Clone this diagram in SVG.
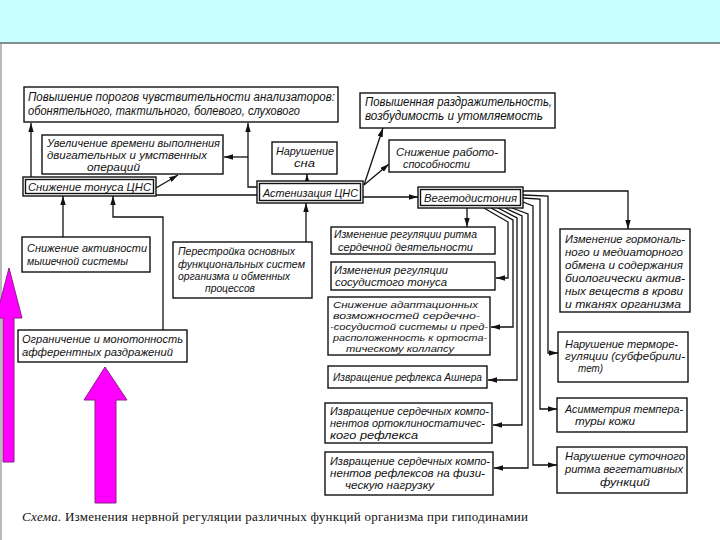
<svg xmlns="http://www.w3.org/2000/svg" width="720" height="540" viewBox="0 0 720 540">
<defs>
<style>
.bx{fill:#fff;stroke:#111;stroke-width:1.4}
.t{font-family:"Liberation Sans","DejaVu Sans",sans-serif;font-style:italic;font-size:11px;fill:#111}
.s12{font-size:12px}
.s105{font-size:10.5px}
.s98{font-size:9.8px}
.c{fill:none;stroke:#111;stroke-width:1.3}
.cap{font-family:"Liberation Serif","DejaVu Serif",serif;font-size:13px;fill:#111}
.mg{fill:#ff00ff;stroke:#8a1f8a;stroke-width:1}
</style>
<marker id="ar" viewBox="0 0 10 6" refX="10" refY="3" markerWidth="9" markerHeight="5.5" markerUnits="userSpaceOnUse" orient="auto">
<path d="M0,0 L10,3 L0,6 z" fill="#111"/>
</marker>
</defs>
<rect x="0" y="0" width="720" height="540" fill="#fff"/>
<rect x="0" y="0" width="720" height="42" fill="#c8ffff"/>
<line x1="0" y1="43" x2="720" y2="43" stroke="#5a6a6a" stroke-width="1.5"/>
<line x1="1" y1="43" x2="1" y2="540" stroke="#777" stroke-width="1"/>

<g id="connectors">
<path class="c" d="M31,177 V123" marker-end="url(#ar)"/>
<path class="c" d="M156,188 L178,175" marker-end="url(#ar)"/>
<path class="c" d="M156,195 H257"/>
<path class="c" d="M257,187 H248 V123" marker-end="url(#ar)"/>
<path class="c" d="M248,157 H224" marker-end="url(#ar)"/>
<path class="c" d="M307,182 V174" marker-end="url(#ar)"/>
<path class="c" d="M364,185 L383,128" marker-end="url(#ar)"/>
<path class="c" d="M364,185 L389,164" marker-end="url(#ar)"/>
<path class="c" d="M363,197 H418" marker-end="url(#ar)"/>
<path class="c" d="M63,237 V196" marker-end="url(#ar)"/>
<path class="c" d="M163,330 V217 H113 V196" marker-end="url(#ar)"/>
<path class="c" d="M306,242 V203" marker-end="url(#ar)"/>
<path class="c" d="M467,208 V227" marker-end="url(#ar)"/>
<path class="c" d="M484,208 L508,222 V278 H496" marker-end="url(#ar)"/>
<path class="c" d="M491,208 L513,220 V327 H491" marker-end="url(#ar)"/>
<path class="c" d="M498,208 L517,218 V380 H488" marker-end="url(#ar)"/>
<path class="c" d="M505,208 L522,216 V425 H493" marker-end="url(#ar)"/>
<path class="c" d="M512,208 L528,214 V468 H494" marker-end="url(#ar)"/>
<path class="c" d="M523,202 L533,206 V465 H557" marker-end="url(#ar)"/>
<path class="c" d="M523,198 L540,199 V409 H557" marker-end="url(#ar)"/>
<path class="c" d="M523,195 L548,196 V353 H558" marker-end="url(#ar)"/>
<path class="c" d="M523,191 H628 V229" marker-end="url(#ar)"/>
</g>

<g id="n1">
<rect class="bx" x="24" y="87" width="314" height="35"/>
<text class="t s12" x="28" y="101" textLength="307" lengthAdjust="spacingAndGlyphs">Повышение порогов чувствительности анализаторов:</text>
<text class="t s12" x="28" y="115" textLength="272" lengthAdjust="spacingAndGlyphs">обонятельного, тактильного, болевого, слухового</text>
</g>
<g id="n2">
<rect class="bx" x="360" y="93" width="195" height="35"/>
<text class="t s12" x="365" y="106" textLength="187" lengthAdjust="spacingAndGlyphs">Повышенная раздражительность,</text>
<text class="t s12" x="365" y="120" textLength="178" lengthAdjust="spacingAndGlyphs">возбудимость и утомляемость</text>
</g>
<g id="n3">
<rect class="bx" x="42" y="135" width="181" height="39"/>
<text class="t s105" x="47" y="147" textLength="173" lengthAdjust="spacingAndGlyphs">Увеличение времени выполнения</text>
<text class="t s105" x="47" y="159" textLength="160" lengthAdjust="spacingAndGlyphs">двигательных и умственных</text>
<text class="t s105" x="87" y="171" textLength="53" lengthAdjust="spacingAndGlyphs">операций</text>
</g>
<g id="n4">
<rect class="bx" x="272" y="142" width="65" height="32"/>
<text class="t s105" x="276" y="155" textLength="58" lengthAdjust="spacingAndGlyphs">Нарушение</text>
<text class="t s105" x="294" y="167" textLength="21" lengthAdjust="spacingAndGlyphs">сна</text>
</g>
<g id="n5">
<rect class="bx" x="389" y="140" width="116" height="32"/>
<text class="t s105" x="396" y="156" textLength="102" lengthAdjust="spacingAndGlyphs">Снижение работо-</text>
<text class="t s105" x="403" y="168" textLength="67" lengthAdjust="spacingAndGlyphs">способности</text>
</g>
<g id="n6">
<rect class="bx" x="23" y="177" width="133" height="19"/>
<rect class="bx" x="25.5" y="179.5" width="128" height="14" fill="none"/>
<text class="t" x="28" y="191" textLength="123" lengthAdjust="spacingAndGlyphs">Снижение тонуса ЦНС</text>
</g>
<g id="n7">
<rect class="bx" x="257" y="181" width="106" height="22"/>
<rect class="bx" x="259.5" y="183.5" width="101" height="17" fill="none"/>
<text class="t" x="263" y="197" textLength="95" lengthAdjust="spacingAndGlyphs">Астенизация ЦНС</text>
</g>
<g id="n8">
<rect class="bx" x="418" y="187" width="105" height="21"/>
<rect class="bx" x="420.5" y="189.5" width="100" height="16" fill="none"/>
<text class="t" x="424" y="202" textLength="93" lengthAdjust="spacingAndGlyphs">Вегетодистония</text>
</g>
<g id="n9">
<rect class="bx" x="22" y="237" width="128" height="35"/>
<text class="t" x="27" y="252" textLength="120" lengthAdjust="spacingAndGlyphs">Снижение активности</text>
<text class="t" x="27" y="265" textLength="101" lengthAdjust="spacingAndGlyphs">мышечной системы</text>
</g>
<g id="n10">
<rect class="bx" x="173" y="242" width="139" height="56"/>
<text class="t s105" x="178" y="255" textLength="117" lengthAdjust="spacingAndGlyphs">Перестройка основных</text>
<text class="t s105" x="178" y="268" textLength="127" lengthAdjust="spacingAndGlyphs">функциональных систем</text>
<text class="t s105" x="178" y="280" textLength="112" lengthAdjust="spacingAndGlyphs">организма и обменных</text>
<text class="t s105" x="205" y="292" textLength="50" lengthAdjust="spacingAndGlyphs">процессов</text>
</g>
<g id="n11">
<rect class="bx" x="18" y="330" width="169" height="32"/>
<text class="t" x="22" y="343" textLength="161" lengthAdjust="spacingAndGlyphs">Ограничение и монотонность</text>
<text class="t" x="22" y="356" textLength="151" lengthAdjust="spacingAndGlyphs">афферентных раздражений</text>
</g>
<g id="n12">
<rect class="bx" x="331" y="227" width="164" height="27"/>
<text class="t" x="334" y="238" textLength="143" lengthAdjust="spacingAndGlyphs">Изменение регуляции ритма</text>
<text class="t" x="338" y="251" textLength="135" lengthAdjust="spacingAndGlyphs">сердечной деятельности</text>
</g>
<g id="n13">
<rect class="bx" x="331" y="262" width="164" height="28"/>
<text class="t s105" x="334" y="274" textLength="114" lengthAdjust="spacingAndGlyphs">Изменения регуляции</text>
<text class="t s105" x="335" y="286" textLength="112" lengthAdjust="spacingAndGlyphs">сосудистого тонуса</text>
</g>
<g id="n14">
<rect class="bx" x="328" y="297" width="162" height="58"/>
<text class="t s98" x="333" y="308" textLength="145" lengthAdjust="spacingAndGlyphs">Снижение адаптационных</text>
<text class="t s98" x="333" y="319" textLength="147" lengthAdjust="spacingAndGlyphs">возможностей сердечно-</text>
<text class="t s98" x="330" y="330" textLength="158" lengthAdjust="spacingAndGlyphs">-сосудистой системы и пред-</text>
<text class="t s98" x="333" y="341" textLength="154" lengthAdjust="spacingAndGlyphs">расположенность к ортоста-</text>
<text class="t s98" x="346" y="352" textLength="108" lengthAdjust="spacingAndGlyphs">тическому коллапсу</text>
</g>
<g id="n15">
<rect class="bx" x="328" y="366" width="159" height="22"/>
<text class="t" x="333" y="381" textLength="149" lengthAdjust="spacingAndGlyphs">Извращение рефлекса Ашнера</text>
</g>
<g id="n16">
<rect class="bx" x="325" y="403" width="167" height="40"/>
<text class="t s105" x="330" y="415" textLength="159" lengthAdjust="spacingAndGlyphs">Извращение сердечных компо-</text>
<text class="t s105" x="330" y="427" textLength="155" lengthAdjust="spacingAndGlyphs">нентов ортоклиностатичес-</text>
<text class="t s105" x="330" y="439" textLength="88" lengthAdjust="spacingAndGlyphs">кого   рефлекса</text>
</g>
<g id="n17">
<rect class="bx" x="325" y="452" width="168" height="43"/>
<text class="t s105" x="330" y="465" textLength="160" lengthAdjust="spacingAndGlyphs">Извращение сердечных компо-</text>
<text class="t s105" x="330" y="477" textLength="155" lengthAdjust="spacingAndGlyphs">нентов рефлексов на физи-</text>
<text class="t s105" x="345" y="489" textLength="89" lengthAdjust="spacingAndGlyphs">ческую нагрузку</text>
</g>
<g id="n18">
<rect class="bx" x="560" y="229" width="130" height="83"/>
<text class="t" x="565" y="243" textLength="120" lengthAdjust="spacingAndGlyphs">Изменение гормональ-</text>
<text class="t" x="565" y="256" textLength="118" lengthAdjust="spacingAndGlyphs">ного и медиаторного</text>
<text class="t" x="565" y="269" textLength="118" lengthAdjust="spacingAndGlyphs">обмена и содержания</text>
<text class="t" x="565" y="282" textLength="120" lengthAdjust="spacingAndGlyphs">биологически актив-</text>
<text class="t" x="565" y="295" textLength="118" lengthAdjust="spacingAndGlyphs">ных веществ в крови</text>
<text class="t" x="565" y="308" textLength="116" lengthAdjust="spacingAndGlyphs">и тканях организма</text>
</g>
<g id="n19">
<rect class="bx" x="558" y="332" width="130" height="50"/>
<text class="t s105" x="565" y="348" textLength="113" lengthAdjust="spacingAndGlyphs">Нарушение терморе-</text>
<text class="t s105" x="565" y="360" textLength="120" lengthAdjust="spacingAndGlyphs">гуляции (субфебрили-</text>
<text class="t s105" x="578" y="372" textLength="25" lengthAdjust="spacingAndGlyphs">тет)</text>
</g>
<g id="n20">
<rect class="bx" x="557" y="398" width="130" height="34"/>
<text class="t s105" x="565" y="413" textLength="118" lengthAdjust="spacingAndGlyphs">Асимметрия темпера-</text>
<text class="t s105" x="575" y="425" textLength="60" lengthAdjust="spacingAndGlyphs">туры кожи</text>
</g>
<g id="n21">
<rect class="bx" x="557" y="447" width="130" height="46"/>
<text class="t" x="565" y="460" textLength="120" lengthAdjust="spacingAndGlyphs">Нарушение суточного</text>
<text class="t" x="565" y="473" textLength="118" lengthAdjust="spacingAndGlyphs">ритма вегетативных</text>
<text class="t" x="600" y="486" textLength="50" lengthAdjust="spacingAndGlyphs">функций</text>
</g>

<g id="magenta-arrows">
<polygon class="mg" points="9,268 22,318 14,318 14,462 3,462 3,318 -4,318"/>
<polygon class="mg" points="105,367 127,400 116,400 116,503 95,503 95,400 84,400"/>
</g>

<text class="cap" x="22" y="521" textLength="506" lengthAdjust="spacing"><tspan font-style="italic">Схема.</tspan> Изменения нервной регуляции различных функций организма при гиподинамии</text>
</svg>
